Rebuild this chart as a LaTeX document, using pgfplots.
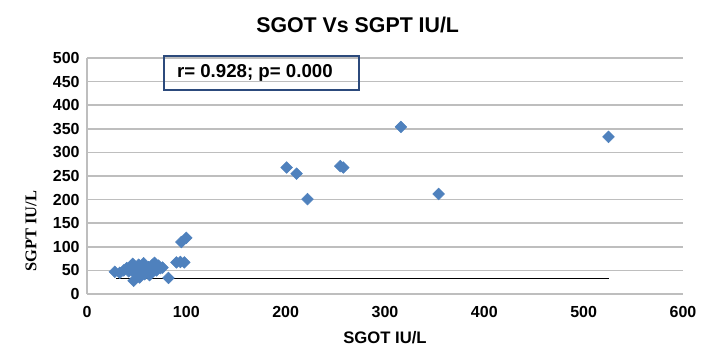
\documentclass[border=0pt]{standalone}
\usepackage{pgfplots}
\pgfplotsset{compat=1.18}
\usepackage{fontspec}
\setmainfont{Liberation Sans}
\newfontfamily\timesfont{Liberation Serif}
\usetikzlibrary{calc}
\definecolor{mkblue}{HTML}{4F81BD}
\definecolor{boxblue}{HTML}{2C4A7C}
\definecolor{gridgray}{HTML}{BEBEBE}
\begin{document}
\begin{tikzpicture}
\begin{axis}[
  name=ax,
  scale only axis,
  width=447pt, height=177pt,
  xmin=0, xmax=600, ymin=0, ymax=500,
  xtick={0,100,...,600}, ytick={0,50,...,500},
  axis x line*=bottom, axis y line*=left,
  axis line style={gridgray, line width=1.1pt, -},
  major tick length=0pt,
  ymajorgrids, grid style={gridgray, line width=1.1pt},
  tick label style={font=\fontsize{12}{14}\selectfont\bfseries},
  /pgf/number format/assume math mode=true,
  xticklabel style={yshift=-6pt},
  yticklabel style={xshift=-2pt},
  clip=false,
]
\addplot[black, line width=0.8pt, no marks] coordinates {(29,33) (525,33)};
\addplot[only marks, mark=square*, mark size=3.1pt, mark options={fill=mkblue, draw=mkblue, rotate=45}] coordinates {
(28,47) (33,45) (37,50) (40,55) (42,48) (44,58) (46,64) (47,28) (48,45) (50,52)
(51,38) (52,62) (54,48) (55,55) (57,65) (58,42) (60,50) (62,57) (63,40) (64,47)
(66,62) (68,66) (69,58) (70,50) (72,60) (74,55) (76,56) (45,52) (53,35) (82,34)
(90,67) (94,68) (98,67) (95,110) (100,119)
(201,268) (211,255) (222,201) (255,271) (258,268) (316,354) (354,212) (525,333)
};
\node[draw=boxblue, line width=1.8pt, minimum width=146pt, minimum height=25.5pt, inner sep=0pt] at (axis cs:175.7,468) {};
\node[font=\fontsize{14}{16}\selectfont\bfseries, xshift=-5pt] at (axis cs:175.7,468) {r= 0.928; p= 0.000};
\end{axis}
\node[font=\fontsize{16}{18}\selectfont\bfseries] at ($(ax.south west)+(203pt,202pt)$) {SGOT Vs SGPT IU/L};
\node[font=\fontsize{12.5}{14}\selectfont\bfseries] at ($(ax.south west)+(223.5pt,-33pt)$) {SGOT IU/L};
\node[rotate=90, font=\timesfont\fontsize{12.3}{14}\selectfont\bfseries] at ($(ax.south west)+(-42pt,47pt)$) {SGPT IU/L};
\path[use as bounding box] ($(ax.south west)+(-65.25pt,-45pt)$) rectangle ++(530.25pt,265.5pt);
\end{tikzpicture}
\end{document}
